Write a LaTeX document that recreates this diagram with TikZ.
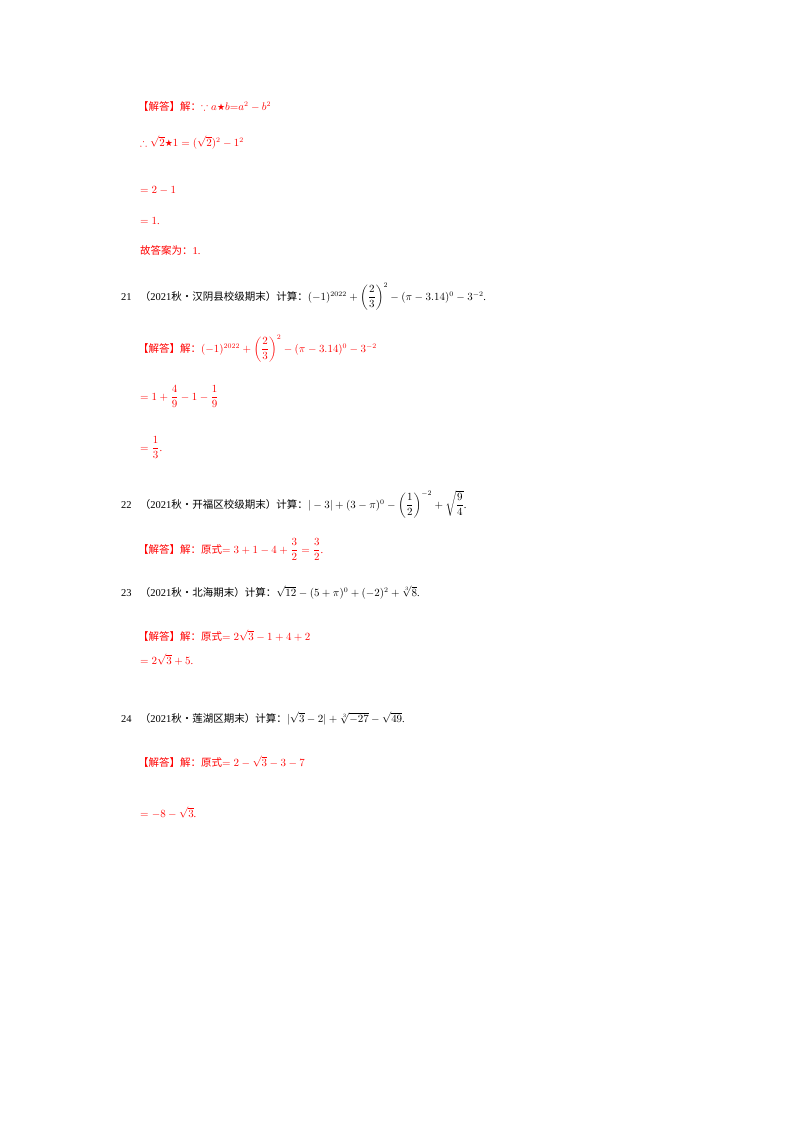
\documentclass[tikz,border=0pt]{standalone}
\usepackage{amsmath,amssymb}
\usepackage{fontspec}
\setmainfont{Liberation Serif}
\newfontfamily\cjk{Noto Sans CJK SC}
\newfontfamily\starfont{DejaVu Sans}
\begin{document}
\begin{tikzpicture}[x=1pt,y=-1pt,
  t/.style={anchor=base west,inner sep=0pt,font=\fontsize{10.5}{12}\selectfont},
  r/.style={t,text=red}]
\useasboundingbox (0,0) rectangle (800,1132);
\node[r] (l1) at (138,110) {{\cjk【解答】解：}$\because a${\starfont\small★}$b{=}a^2-b^2$，};
\node[r] (l2) at (140,146) {$\therefore\sqrt2${\starfont\small★}$1=(\sqrt2)^2-1^2$};
\node[r] (l3) at (140,193) {$=2-1$};
\node[r] (l4) at (140,224) {$=1$.};
\node[r] (l5) at (140,254) {{\cjk 故答案为：}1.};
\node[t] (q21) at (121,300) {21．{\cjk（}2021{\cjk 秋•汉阴县校级期末）计算：}$(-1)^{2022}+\left(\dfrac23\right)^{2}-(\pi-3.14)^0-3^{-2}$.};
\node[r] (a21) at (138,352) {{\cjk【解答】解：}$(-1)^{2022}+\left(\dfrac23\right)^{2}-(\pi-3.14)^0-3^{-2}$};
\node[r] (b21) at (140,400) {$=1+\dfrac49-1-\dfrac19$};
\node[r] (c21) at (140,451) {$=\dfrac13$.};
\node[t] (q22) at (121,508) {22．{\cjk（}2021{\cjk 秋•开福区校级期末）计算：}$|-3|+(3-\pi)^0-\left(\dfrac12\right)^{-2}+\sqrt{\dfrac94}$.};
\node[r] (a22) at (138,553) {{\cjk【解答】解：原式}$=3+1-4+\dfrac32=\dfrac32$.};
\node[t] (q23) at (121,596) {23．{\cjk（}2021{\cjk 秋•北海期末）计算：}$\sqrt{12}-(5+\pi)^0+(-2)^2+\sqrt[3]{8}$.};
\node[r] (a23) at (138,640) {{\cjk【解答】解：原式}$=2\sqrt3-1+4+2$};
\node[r] (b23) at (140,664) {$=2\sqrt3+5$.};
\node[t] (q24) at (121,722) {24．{\cjk（}2021{\cjk 秋•莲湖区期末）计算：}$|\sqrt3-2|+\sqrt[3]{-27}-\sqrt{49}$.};
\node[r] (a24) at (138,766) {{\cjk【解答】解：原式}$=2-\sqrt3-3-7$};
\node[r] (b24) at (140,817) {$=-8-\sqrt3$.};
\end{tikzpicture}
\end{document}
